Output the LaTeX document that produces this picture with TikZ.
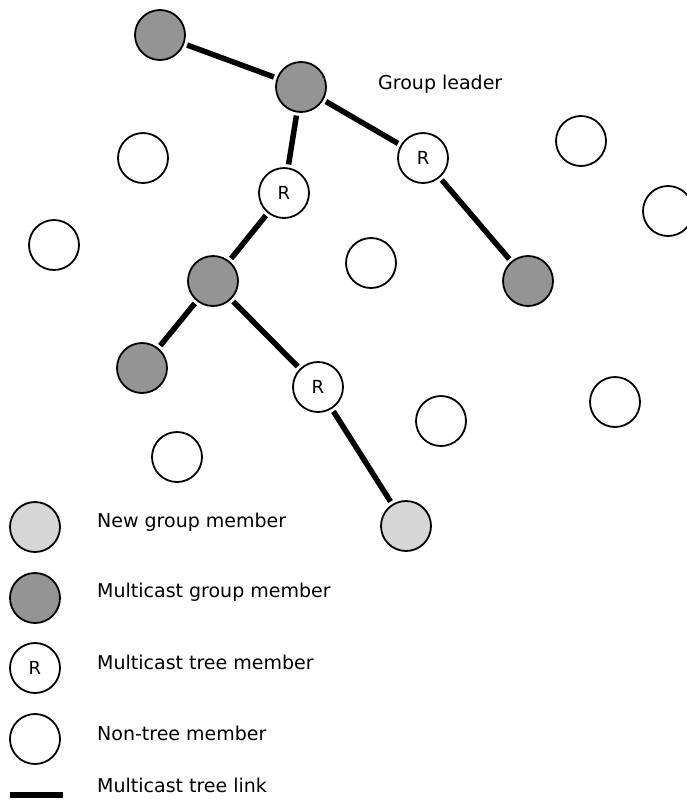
\documentclass[tikz,border=0pt]{standalone}
\usepackage{fontspec}
\setmainfont{DejaVu Sans}
\begin{document}
\begin{tikzpicture}[x=1pt,y=-1pt,
    site/.style={circle,draw,line width=1.8pt,minimum size=50pt,inner sep=0pt,
      font=\fontsize{18}{20}\selectfont},
    member/.style={site,fill=black!42},
    newmember/.style={site,fill=black!16},
    router/.style={site,fill=white},
    plain/.style={site,fill=white},
    link/.style={line width=5.5pt,shorten <=3pt,shorten >=3pt},
    lbl/.style={anchor=west,inner sep=0pt,font=\fontsize{19}{22}\selectfont}]
  \useasboundingbox (0,0) rectangle (686,801);
  % tree
  \node[member] (m1) at (160,35) {};
  \node[member] (lead) at (301,87) {};
  \node[router] (r1) at (284,193) {R};
  \node[router] (r2) at (423,158) {R};
  \node[member] (m2) at (213,281) {};
  \node[member] (m3) at (528,281) {};
  \node[member] (m4) at (142,368) {};
  \node[router] (r3) at (318,387) {R};
  \node[newmember] (nm) at (406,526) {};
  \node[lbl] (leadtxt) at (378,84) {Group leader};
  % others
  \node[plain] (p1) at (143,158) {};
  \node[plain] (p2) at (581,141) {};
  \node[plain] (p3) at (668,211) {};
  \node[plain] (p4) at (54,245) {};
  \node[plain] (p5) at (371,263) {};
  \node[plain] (p6) at (441,421) {};
  \node[plain] (p7) at (615,402) {};
  \node[plain] (p8) at (177,457) {};
  % links
  \draw[link] (m1) -- (lead);
  \draw[link] (lead) -- (r1);
  \draw[link] (lead) -- (r2);
  \draw[link] (r2) -- (m3);
  \draw[link] (r1) -- (m2);
  \draw[link] (m2) -- (m4);
  \draw[link] (m2) -- (r3);
  \draw[link] (r3) -- (nm);
  % legend
  \node[newmember] (knew) at (35,527) {};
  \node[member] (kmem) at (35,598) {};
  \node[router] (krt) at (35,668) {R};
  \node[plain] (kpl) at (35,739) {};
  \coordinate (kl1) at (10,795);
  \coordinate (kl2) at (63,795);
  \draw[line width=6pt] (kl1) -- (kl2);
  \node[lbl] (tnew) at (97,522) {New group member};
  \node[lbl] (tmem) at (97,592) {Multicast group member};
  \node[lbl] (trt) at (97,662) {Multicast tree member};
  \node[lbl] (tpl) at (97,733) {Non-tree member};
  \node[lbl] (tlink) at (97,785) {Multicast tree link};
\end{tikzpicture}
\end{document}
